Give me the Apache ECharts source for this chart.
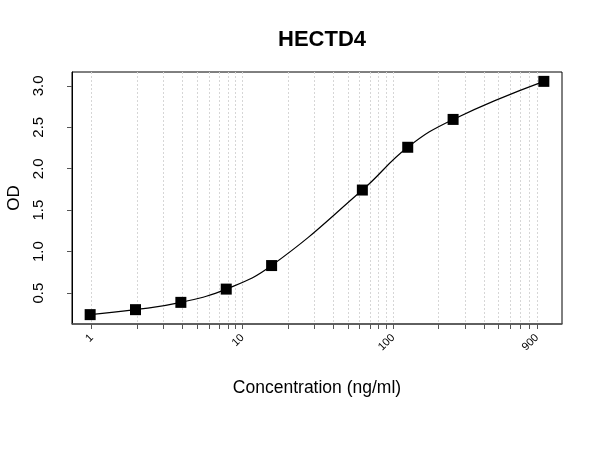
<!DOCTYPE html>
<html>
<head>
<meta charset="utf-8">
<script src="https://cdn.jsdelivr.net/npm/echarts@6/dist/echarts.min.js"></script>
<style>
  html, body { margin: 0; padding: 0; background: #fff; }
  #main { width: 600px; height: 450px; }
</style>
</head>
<body>
<div id="main"></div>
<script>
// standard curve points (ng/ml, OD)
var concentration = [0.977, 1.953, 3.906, 7.813, 15.625, 62.5, 125, 250, 1000];
var od = [0.24, 0.30, 0.388, 0.548, 0.832, 1.743, 2.259, 2.595, 3.054];

// axis ticks
var xTicks = [1, 2, 3, 4, 5, 6, 7, 8, 9, 10, 20, 30, 40, 50, 60, 70, 80, 90,
  100, 200, 300, 400, 500, 600, 700, 800, 900];
var xLabels = [1, 10, 100, 900];
var yTicks = [0.5, 1.0, 1.5, 2.0, 2.5, 3.0];

var font = '"Liberation Sans", Arial, sans-serif';

var points = [];
for (var i = 0; i < concentration.length; i++) {
  points.push([concentration[i], od[i]]);
}

var myChart = echarts.init(document.getElementById('main'));
myChart.setOption({
  animation: false,
  backgroundColor: '#fff',
  title: {
    text: 'HECTD4',
    left: 317,
    textAlign: 'center',
    top: 24,
    textStyle: { fontFamily: font, fontSize: 22, fontWeight: 'bold', color: '#000' }
  },
  grid: {
    left: 72, right: 38, top: 72, bottom: 126,
    outerBoundsMode: 'none',
    containLabel: false,
    show: true, borderColor: '#000', borderWidth: 1
  },
  xAxis: {
    type: 'log',
    min: 0.7404,
    max: 1319.6,
    name: 'Concentration (ng/ml)',
    nameLocation: 'middle',
    nameGap: 55,
    nameTextStyle: { fontFamily: font, fontSize: 17.5, color: '#000' },
    axisLine: { show: true, lineStyle: { color: '#555', width: 1.5 } },
    axisTick: { show: true, customValues: xTicks, length: 5, lineStyle: { color: '#555' } },
    axisLabel: {
      customValues: xLabels,
      rotate: 45,
      margin: 12,
      fontFamily: font,
      fontSize: 11,
      color: '#000',
      formatter: function (v) { return String(Math.round(v)); }
    },
    splitLine: { show: true, lineStyle: { color: '#d6d6d6', type: [2, 2], width: 1 } }
  },
  yAxis: {
    type: 'value',
    min: 0.127,
    max: 3.167,
    name: 'OD',
    nameLocation: 'middle',
    nameGap: 45,
    nameRotate: 90,
    nameTextStyle: { fontFamily: font, fontSize: 17, color: '#000' },
    axisLine: { show: true, lineStyle: { color: '#000', width: 1 } },
    axisTick: { show: true, customValues: yTicks, length: 5, lineStyle: { color: '#555' } },
    axisLabel: {
      customValues: yTicks,
      rotate: 90,
      margin: 26,
      fontFamily: font,
      fontSize: 15,
      color: '#000',
      formatter: function (v) { return v.toFixed(1); }
    },
    splitLine: { show: false }
  },
  series: [{
    type: 'line',
    data: points,
    smooth: 0.45,
    symbol: 'rect',
    symbolSize: 11,
    itemStyle: { color: '#000' },
    lineStyle: { color: '#000', width: 1.2 }
  }]
});
</script>
</body>
</html>
